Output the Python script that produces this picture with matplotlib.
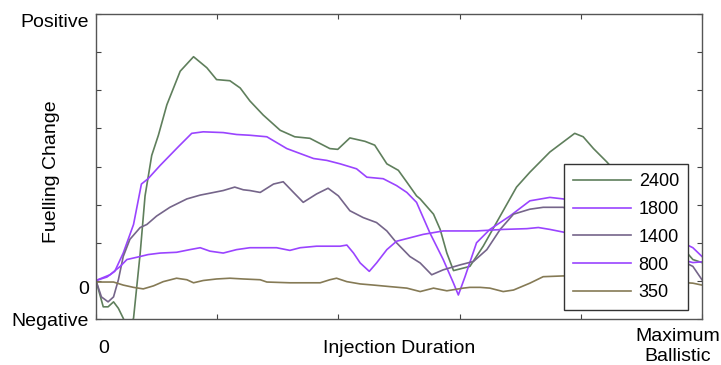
import matplotlib.pyplot as plt

plt.rcParams['font.family'] = ['Liberation Sans', 'DejaVu Sans']

# x: % of maximum ballistic injection duration, y: fuelling change (arbitrary units)
x_2400 = [0, 1.2, 2.0, 2.9, 3.7, 4.5, 5.3, 6.2, 7.3, 8.1, 9.2, 10.3, 11.7, 13.9, 16.1, 18.3,
          19.9, 22.1, 23.8, 25.4, 27.6, 30.4, 32.8, 35.3, 38.6, 39.9, 41.9, 44.4, 46.0, 48.0,
          49.9, 51.3, 52.9, 53.5, 55.7, 56.8, 57.9, 59.0, 61.7, 63.9, 66.7, 69.4, 71.6, 74.9,
          79.0, 80.4, 82.1, 84.3, 90.0, 95.0, 98.5, 100]
y_2400 = [0.01, -0.68, -0.68, -0.55, -0.72, -0.98, -1.30, -0.98, 0.73, 2.23, 3.29, 3.82, 4.62,
          5.50, 5.88, 5.59, 5.28, 5.25, 5.06, 4.72, 4.35, 3.95, 3.78, 3.74, 3.47, 3.45, 3.75,
          3.66, 3.56, 3.07, 2.90, 2.59, 2.23, 2.15, 1.75, 1.35, 0.73, 0.27, 0.38, 0.91, 1.70,
          2.46, 2.85, 3.38, 3.87, 3.78, 3.47, 3.12, 2.10, 1.20, 0.56, 0.48]

x_1800 = [0, 1.8, 3.1, 4.5, 6.2, 7.5, 8.6, 10.6, 13.6, 15.8, 17.7, 21.0, 23.2, 25.4, 28.2,
          31.5, 33.7, 35.9, 38.1, 40.3, 43.0, 44.7, 47.4, 49.6, 51.3, 52.9, 55.1, 57.3, 59.0,
          59.8, 60.9, 62.8, 65.0, 68.3, 71.6, 74.9, 77.1, 85.0, 93.0, 98.5, 100]
y_1800 = [0.01, 0.10, 0.25, 0.73, 1.48, 2.54, 2.68, 3.03, 3.52, 3.87, 3.91, 3.89, 3.84, 3.82,
          3.78, 3.47, 3.34, 3.21, 3.16, 3.07, 2.94, 2.72, 2.68, 2.50, 2.32, 2.06, 1.26, 0.56,
          -0.06, -0.37, 0.11, 1.00, 1.35, 1.70, 2.10, 2.19, 2.15, 1.90, 1.30, 0.87, 0.64]

x_1400 = [0, 0.9, 2.0, 2.9, 3.7, 4.5, 5.6, 7.3, 8.4, 10.0, 12.2, 15.0, 17.2, 18.8, 21.0, 22.9,
          24.3, 25.4, 27.1, 29.3, 30.9, 32.6, 34.2, 36.4, 38.3, 40.0, 41.9, 44.1, 46.3, 48.0,
          49.6, 51.8, 53.5, 55.4, 57.3, 60.1, 62.3, 64.5, 66.7, 68.9, 71.6, 73.8, 77.1, 88.0,
          98.5, 100]
y_1400 = [0.01, -0.42, -0.55, -0.42, 0.03, 0.64, 1.09, 1.40, 1.48, 1.70, 1.93, 2.15, 2.25,
          2.30, 2.37, 2.46, 2.39, 2.37, 2.32, 2.54, 2.60, 2.32, 2.06, 2.28, 2.43, 2.23, 1.84,
          1.66, 1.53, 1.31, 1.00, 0.64, 0.47, 0.16, 0.29, 0.42, 0.51, 0.82, 1.35, 1.75, 1.88,
          1.93, 1.93, 1.20, 0.38, 0.03]

x_800 = [0, 2.3, 4.0, 5.1, 7.3, 8.6, 10.6, 13.3, 15.5, 17.2, 18.8, 21.0, 23.2, 25.4, 29.8,
         32.0, 33.7, 36.4, 40.3, 41.4, 42.5, 43.6, 45.1, 46.3, 48.0, 49.6, 51.8, 54.0, 57.3,
         62.8, 67.2, 71.1, 73.0, 74.9, 77.1, 88.0, 98.5, 100]
y_800 = [0.01, 0.16, 0.38, 0.56, 0.64, 0.69, 0.73, 0.75, 0.82, 0.87, 0.78, 0.73, 0.82, 0.87,
         0.87, 0.80, 0.87, 0.91, 0.91, 0.94, 0.73, 0.47, 0.25, 0.47, 0.82, 1.04, 1.13, 1.22,
         1.31, 1.31, 1.35, 1.37, 1.40, 1.35, 1.28, 0.90, 0.48, 0.50]

x_350 = [0, 2.9, 4.5, 6.2, 7.8, 9.5, 11.1, 13.3, 15.0, 16.1, 17.7, 19.9, 22.1, 24.3, 27.1,
         28.2, 32.0, 37.0, 38.6, 39.7, 41.4, 43.6, 45.8, 48.5, 51.3, 53.5, 55.7, 57.9, 60.6,
         61.7, 63.4, 65.0, 67.2, 68.9, 71.6, 73.8, 77.1, 88.0, 98.5, 100]
y_350 = [-0.03, -0.03, -0.11, -0.17, -0.21, -0.13, -0.02, 0.07, 0.03, -0.05, 0.01, 0.05, 0.07,
         0.05, 0.03, -0.03, -0.05, -0.05, 0.03, 0.07, -0.02, -0.08, -0.11, -0.15, -0.19, -0.28,
         -0.19, -0.26, -0.19, -0.17, -0.17, -0.19, -0.28, -0.24, -0.06, 0.11, 0.13, 0.05,
         -0.06, -0.11]

series = [
    ('2400', x_2400, y_2400, '#5f7f5c'),
    ('1800', x_1800, y_1800, '#9a44ff'),
    ('1400', x_1400, y_1400, '#75658a'),
    ('800', x_800, y_800, '#9a44ff'),
    ('350', x_350, y_350, '#857a55'),
]

fig = plt.figure(figsize=(7.21, 3.65), dpi=100)
ax = fig.add_axes([0.1331, 0.126, 0.8405, 0.8356])

for name, xs, ys, col in series:
    ax.plot(xs, ys, color=col, lw=1.2, label=name)

ax.set_xlim(0, 100)
ax.set_ylim(-1, 7)
ax.set_xticks([0, 20, 40, 60, 80, 100])
ax.set_xticklabels([])
ax.set_yticks(range(-1, 8))
ylabels = ['Negative', '0', '', '', '', '', '', '', 'Positive']
ax.set_yticklabels(ylabels)
ax.get_yticklabels()[-1].set_va('top')
ax.get_yticklabels()[1].set_va('top')
ax.tick_params(direction='in', length=3.6, top=True, right=True, labelsize=14,
               color='#444444', pad=5)
for sp in ax.spines.values():
    sp.set_color('#555555')
    sp.set_linewidth(1.0)

# x labels placed like the original
ax.text(1.3, -0.07, '0', transform=ax.get_xaxis_transform(), ha='center', va='top', fontsize=14)
ax.text(96, -0.03, 'Maximum\nBallistic', transform=ax.get_xaxis_transform(),
        ha='center', va='top', fontsize=14, linespacing=1.2)
ax.text(0.5, -0.07, 'Injection Duration', transform=ax.transAxes, ha='center', va='top',
        fontsize=14)
fig.text(52 / 721, 1 - 172 / 365, 'Fuelling Change', rotation=90, ha='center', va='center',
         fontsize=14)

leg = ax.legend(loc='upper left', bbox_to_anchor=(0.772, 0.508), borderaxespad=0,
                fancybox=False, framealpha=1, edgecolor='#333333', fontsize=13,
                handlelength=3.2, handletextpad=0.45, labelspacing=0.6, borderpad=0.5)
leg.get_frame().set_linewidth(1.0)

fig.savefig('out.png', dpi=100)
